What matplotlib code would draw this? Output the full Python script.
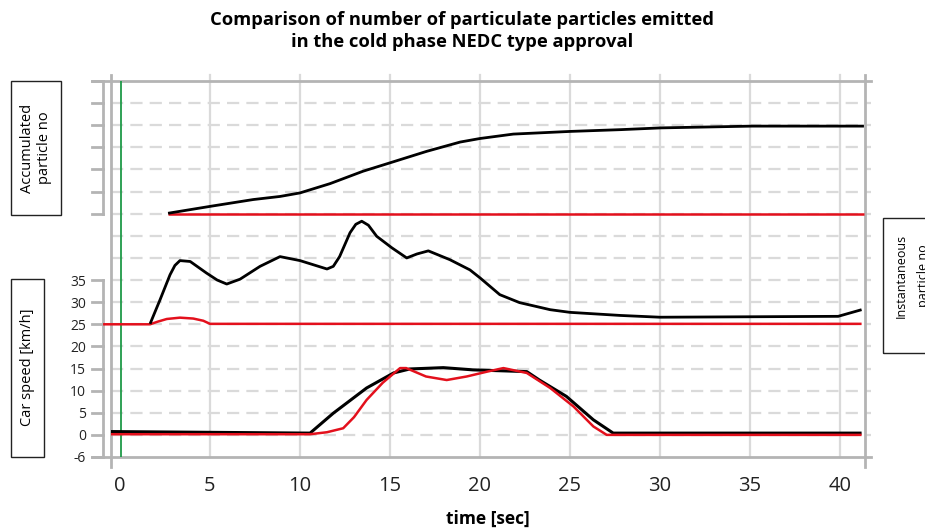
import matplotlib.pyplot as plt
from matplotlib.patches import Rectangle

plt.rcParams['font.family'] = ['Open Sans', 'DejaVu Sans']

# accumulated particle number (drawn in the upper band of the chart)
acc_black_t = [2.67, 5.07, 7.4, 8.89, 10.0, 11.67, 13.5, 15.0, 17.04, 18.9, 20.0, 21.85, 25.0, 27.8, 30.05, 35.1, 41.33]
acc_black = [50.1, 51.7, 53.2, 53.9, 54.7, 56.8, 59.6, 61.5, 64.1, 66.2, 67.0, 68.0, 68.6, 69.0, 69.4, 69.8, 69.8]
acc_red_t = [2.67, 41.33]
acc_red = [50.0, 50.0]

# instantaneous particle number (middle band)
inst_black_t = [1.67, 2.22, 2.78, 3.05, 3.33, 3.9, 4.8, 5.4, 5.93, 6.67, 7.78, 8.89, 10.0, 11.5, 11.85, 12.2,
                12.78, 13.1, 13.43, 13.8, 14.26, 15.1, 15.93, 16.5, 17.13, 18.33, 19.44, 20.0, 21.1, 22.2,
                23.9, 25.0, 27.8, 30.0, 39.9, 41.2]
inst_black = [25.1, 30.5, 36.2, 38.3, 39.4, 39.2, 36.6, 35.0, 34.1, 35.2, 38.1, 40.3, 39.4, 37.5, 38.1, 40.3,
              45.7, 47.6, 48.3, 47.4, 44.9, 42.3, 40.0, 40.9, 41.6, 39.6, 37.3, 35.5, 31.7, 29.9,
              28.3, 27.7, 27.0, 26.6, 26.8, 28.3]
inst_red_t = [-0.94, 1.67, 2.1, 2.6, 3.33, 4.07, 4.63, 5.0, 41.2]
inst_red = [25.0, 25.0, 25.6, 26.2, 26.5, 26.3, 25.8, 25.1, 25.1]

# car speed [km/h]
speed_black_t = [-0.5, 10.56, 11.85, 13.7, 15.2, 16.1, 17.96, 19.6, 21.1, 22.6, 23.3, 24.8, 26.3, 27.4, 41.2]
speed_black = [0.75, 0.4, 4.9, 10.6, 14.0, 14.9, 15.2, 14.7, 14.5, 14.3, 12.4, 8.7, 3.4, 0.4, 0.4]
speed_red_t = [-0.5, 10.56, 11.5, 12.4, 13.0, 13.7, 14.6, 15.56, 15.9, 17.0, 18.15, 19.26, 20.4, 21.3,
               22.6, 23.9, 25.2, 26.3, 27.04, 41.2]
speed_red = [0.15, 0.15, 0.6, 1.5, 4.0, 7.9, 11.8, 15.1, 15.1, 13.2, 12.4, 13.2, 14.3, 15.1,
             14.0, 10.6, 6.4, 1.9, 0.0, 0.0]

xticks = [0, 5, 10, 15, 20, 25, 30, 35, 40]
speed_ticks = [-5, 0, 5, 10, 15, 20, 25, 30, 35]
speed_labels = ['-6', '0', '5', '10', '15', '20', '25', '30', '35']
upper_ticks = [50, 55, 60, 65, 70, 75, 80]
grid_rows = list(range(-5, 81, 5))

W, H = 925, 531
fig = plt.figure(figsize=(W / 100, H / 100), dpi=100)
ax = fig.add_axes([111 / W, (H - 457) / H, (865 - 111) / W, (457 - 81) / H])
ax.set_xlim(-0.5, 41.39)
ax.set_ylim(-5, 80)
for s in ax.spines.values():
    s.set_visible(False)

grey = '#b4b4b4'
light = '#dadada'

# grid
for r in grid_rows[1:-1]:
    ax.plot([-0.5, 41.72], [r, r], color=light, lw=1.6, dashes=(5.5, 3.2), clip_on=False, zorder=1)
for t in xticks[1:]:
    ax.plot([t, t], [-5, 81.4], color=light, lw=1.6, clip_on=False, zorder=1)

# frame
ax.plot([-1.56, 41.72], [80, 80], color=grey, lw=2, clip_on=False, zorder=2)
ax.plot([-1.56, 41.72], [-5, -5], color=grey, lw=2, clip_on=False, zorder=2)
ax.plot([-0.5, -0.5], [-7.2, 81.4], color=grey, lw=2, clip_on=False, zorder=2)
ax.plot([41.39, 41.39], [-7.2, 81.4], color=grey, lw=2, clip_on=False, zorder=2)
ax.plot([-0.94, -0.94], [-5, 35], color=grey, lw=2, clip_on=False, zorder=2)
ax.plot([-0.94, -0.94], [50, 80], color=grey, lw=2, clip_on=False, zorder=2)
for r in speed_ticks + upper_ticks:
    ax.plot([-1.56, -0.94], [r, r], color=grey, lw=2, clip_on=False, zorder=2)

# marker line at start
ax.plot([0.04, 0.04], [-5, 80], color='#1f9a48', lw=1.3, zorder=3)

red = '#e3101c'
style = dict(clip_on=False, solid_joinstyle='round', solid_capstyle='butt')
ax.plot(acc_red_t, acc_red, color=red, lw=1.8, zorder=4, **style)
ax.plot(acc_black_t, acc_black, color='black', lw=2, zorder=5, **style)
ax.plot(inst_red_t, inst_red, color=red, lw=1.8, zorder=4, **style)
ax.plot(inst_black_t, inst_black, color='black', lw=2, zorder=5, **style)
ax.plot(speed_black_t, speed_black, color='black', lw=2.2, zorder=4, **style)
ax.plot(speed_red_t, speed_red, color=red, lw=1.8, zorder=5, **style)

ax.set_xticks(xticks)
ax.set_xticklabels([str(t) for t in xticks], fontsize=14.5, color='#222222')
ax.set_yticks(speed_ticks)
ax.set_yticklabels(speed_labels, fontsize=10, color='#222222')
ax.tick_params(axis='x', length=0, pad=14)
ax.tick_params(axis='y', length=0, pad=18)
ax.set_xlabel('time [sec]', fontsize=12.5, fontweight='bold', labelpad=10)

fig.text(0.5, 1 - 11 / H, 'Comparison of number of particulate particles emitted\nin the cold phase NEDC type approval',
         ha='center', va='top', fontsize=13.2, fontweight='bold', linespacing=1.28)

# side labels in boxes
def box(x0, y0, x1, y1):
    fig.add_artist(Rectangle((x0 / W, 1 - y1 / H), (x1 - x0) / W, (y1 - y0) / H,
                             transform=fig.transFigure, fill=False, ec='#222222', lw=1, clip_on=False))

box(11, 81, 61, 215)
fig.text(36 / W, 1 - 148 / H, 'Accumulated\nparticle no', rotation=90, ha='center', va='center',
         fontsize=10.5, linespacing=1.15, multialignment='center')
box(11, 279, 44, 457)
fig.text(27.5 / W, 1 - 367 / H, 'Car speed [km/h]', rotation=90, ha='center', va='center', fontsize=10.5)
box(883, 218, 940, 353)
fig.text(912 / W, 1 - 276 / H, 'Instantaneous\nparticle no', rotation=90, ha='center', va='center',
         fontsize=9, linespacing=1.95, multialignment='center')

fig.savefig('out.png', dpi=100)
